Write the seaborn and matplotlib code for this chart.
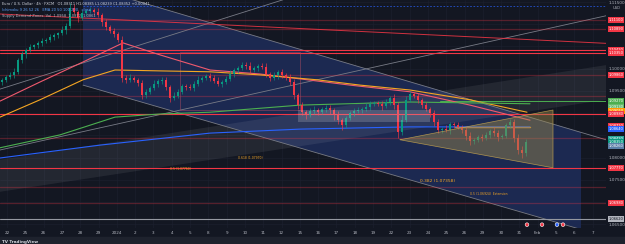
import matplotlib
matplotlib.use("Agg")
import matplotlib.pyplot as plt
import numpy as np
import pandas as pd
import seaborn as sns

# ---- candle data (4h bars) ----
first_open = 1.0970
closes = [
    1.0975, 1.0981, 1.0986, 1.0993, 1.1019, 1.1033, 1.1042, 1.1049, 1.1053, 1.1058, 1.1062, 1.1065,
    1.1071, 1.1076, 1.1080, 1.1087, 1.1096, 1.1137, 1.1128, 1.1114, 1.1125, 1.1130, 1.1132, 1.1128,
    1.1121, 1.1105, 1.1094, 1.1085, 1.1078, 1.1065, 1.0979, 1.0975, 1.0979, 1.0975, 1.0968, 1.0941,
    1.0948, 1.0957, 1.0966, 1.0972, 1.0975, 1.0959, 1.0934, 1.0939, 1.0948, 1.0961, 1.0959, 1.0957,
    1.0966, 1.0975, 1.0979, 1.0984, 1.0979, 1.0972, 1.0966, 1.0970, 1.0977, 1.0988, 1.0997, 1.1002,
    1.1008, 1.1006, 1.0997, 1.1002, 1.1006, 1.1004, 1.0988, 1.0979, 1.0986, 1.0993, 1.0986, 1.0979,
    1.0970, 1.0941, 1.0918, 1.0902, 1.0896, 1.0905, 1.0907, 1.0902, 1.0909, 1.0912, 1.0907, 1.0896,
    1.0884, 1.0873, 1.0889, 1.0900, 1.0905, 1.0907, 1.0909, 1.0914, 1.0921, 1.0923, 1.0921, 1.0916,
    1.0925, 1.0934, 1.0918, 1.0858, 1.0884, 1.0930, 1.0943, 1.0939, 1.0930, 1.0918, 1.0909, 1.0900,
    1.0880, 1.0862, 1.0864, 1.0862, 1.0875, 1.0873, 1.0869, 1.0862, 1.0849, 1.0837, 1.0840, 1.0846,
    1.0844, 1.0851, 1.0860, 1.0855, 1.0846, 1.0849, 1.0873, 1.0880, 1.0844, 1.0817, 1.0810, 1.0835,
]
upper_wick_pips = [
    5, 4, 6, 8, 5, 7, 4, 6, 3, 5, 7, 4,
    6, 5, 3, 8, 6, 10, 9, 5, 7, 4, 6, 5,
    8, 4, 6, 5, 7, 5, 9, 6, 8, 5, 4, 7,
    6, 5, 8, 4, 6, 7, 5, 9, 6, 4, 5, 7,
    6, 8, 5, 4, 6, 7, 9, 5, 6, 8, 4, 5,
    7, 6, 10, 5, 4, 6, 8, 5, 7, 4, 6, 5,
    8, 6, 4, 7, 5, 6, 9, 5, 4, 7, 6, 5,
    8, 6, 4, 5, 7, 6, 5, 8, 6, 4, 5, 7,
    6, 5, 8, 6, 12, 9, 7, 5, 6, 4, 8, 5,
    7, 6, 5, 9, 6, 4, 7, 5, 6, 8, 5, 4,
    6, 7, 5, 8, 6, 4, 5, 7, 6, 10, 8, 6,
]
lower_wick_pips = [
    6, 5, 4, 7, 5, 6, 8, 4, 5, 7, 6, 5,
    4, 6, 7, 5, 8, 4, 6, 9, 5, 6, 4, 7,
    5, 8, 6, 4, 7, 6, 10, 8, 5, 6, 7, 9,
    6, 5, 4, 7, 6, 8, 9, 5, 4, 6, 7, 5,
    8, 5, 6, 4, 7, 5, 6, 8, 4, 5, 7, 6,
    5, 7, 6, 4, 8, 5, 6, 7, 5, 9, 6, 4,
    7, 9, 8, 6, 10, 5, 6, 7, 4, 6, 8, 12,
    9, 10, 6, 5, 7, 4, 6, 5, 7, 6, 4, 8,
    5, 6, 8, 14, 7, 5, 6, 4, 7, 6, 5, 8,
    9, 7, 6, 5, 8, 6, 5, 7, 9, 8, 6, 5,
    6, 5, 7, 6, 8, 5, 6, 7, 9, 8, 10, 6,
]

date_labels = ["22", "25", "26", "27", "28", "29", "2024", "2", "3", "4", "5", "8", "9",
               "10", "11", "12", "15", "16", "17", "18", "19", "22", "23", "24", "25",
               "26", "29", "30", "31", "Feb", "5", "6", "7"]
price_ticks = [1.0650, 1.0700, 1.0750, 1.0800, 1.0850, 1.0900, 1.0950,
               1.1000, 1.1050, 1.1100, 1.1150]

# moving averages (bar index, price)
ma_red_x = [-0.5, 9.5, 20.25, 30.25, 39.5, 52, 64.5, 74.5, 87, 102, 117, 132]
ma_red_y = [1.0927, 1.0970, 1.1015, 1.1058, 1.1031, 1.0997, 1.0988, 1.0977, 1.0963, 1.0948, 1.0918, 1.0884]
ma_orange_x = [-0.5, 9.5, 20.25, 28.25, 39.5, 52, 64.5, 78.75, 89.5, 102, 117, 131.25]
ma_orange_y = [1.0891, 1.0930, 1.0975, 1.0997, 1.0995, 1.0993, 1.0986, 1.0975, 1.0963, 1.0952, 1.0930, 1.0902]
ma_green_x = [-0.5, 14.5, 28.25, 39.5, 52, 74.5, 102, 132]
ma_green_y = [1.0822, 1.0851, 1.0891, 1.0898, 1.0902, 1.0918, 1.0925, 1.0921]
ma_blue_x = [-0.5, 24.5, 52, 74.5, 102, 132]
ma_blue_y = [1.0799, 1.0828, 1.0855, 1.0864, 1.0869, 1.0869]

# drawings
channel_x = [20.25, 144.75, 144.75, 20.25]
channel_y = [1.1188, 1.0857, 1.0639, 1.0963]
wedge_x = [-0.5, 151, 151, -0.5]
wedge_y = [1.0795, 1.1008, 1.0930, 1.0723]
triangle_x = [99.5, 137.75, 137.75]
triangle_y = [1.0840, 1.0907, 1.0777]
range_box = (74, 107, 1.0880, 1.0907)
outline_box = (44.5, 74.5, 1.0907, 1.1038)

strong_red_levels = [1.1042, 1.1035, 1.0898, 1.0777]
dim_red_levels = [1.1110, 1.1089, 1.0986, 1.0939, 1.0844, 1.0734, 1.0698]
grey_level = 1.0662

tag_prices = [1.1110, 1.1089, 1.1042, 1.1035, 1.0986, 1.0927, 1.0913, 1.0905,
              1.0898, 1.0871, 1.0864, 1.0842, 1.0835, 1.0826, 1.0777, 1.0698, 1.0662]
tag_colors = ["#f23645", "#f23645", "#f23645", "#f23645", "#f23645", "#4caf50", "#66bb6a",
              "#ff9800", "#f23645", "#f23645", "#2962ff", "#26a69a", "#089981", "#5b7fa8",
              "#f23645", "#f23645", "#b2b5be"]

event_x = [131.25, 135, 138.75, 140.25]
event_colors = ["#f23645", "#f23645", "#2962ff", "#f23645"]

BG = "#131722"
UP, DOWN = "#089981", "#f23645"

sns.set_theme(style="dark", rc={"axes.facecolor": BG, "figure.facecolor": BG,
                                "grid.color": "#1d2130", "axes.edgecolor": BG})
plt.rcParams["font.family"] = ["DejaVu Sans"]

fig = plt.figure(figsize=(6.25, 2.44), dpi=100)
ax = fig.add_axes([0, 16 / 244, 606 / 625, 228 / 244])
ax.set_xlim(-0.5, 151)
ax.set_ylim(1.06415, 1.11545)

# background drawings
ax.fill(channel_x, channel_y, color="#1c2951", lw=0, zorder=0.6)
ax.fill(wedge_x, wedge_y, color="#ffffff", alpha=0.07, lw=0, zorder=0.7)
ax.plot([20.25, 151], [1.1188, 1.0840], color="#787b86", lw=0.6, zorder=1.5)
ax.plot([20.25, 151], [1.0963, 1.0622], color="#787b86", lw=0.6, zorder=1.5)
ax.plot([-0.5, 151], [1.0817, 1.1119], color="#787b86", lw=0.6, zorder=1.5)
ax.plot([-0.5, 70.25], [1.0954, 1.1155], color="#787b86", lw=0.6, zorder=1.5)
ax.plot([-0.5, 151], [1.1123, 1.1057], color="#f23645", lw=0.7, alpha=0.85, zorder=1.5)
ax.plot([20.25, 151], [1.1141, 1.1141], color="#2962ff", lw=0.6, ls=(0, (2, 2)), alpha=0.8)

for lv in strong_red_levels:
    ax.axhline(lv, color="#f23645", lw=0.8, zorder=1.6)
for lv in dim_red_levels:
    ax.axhline(lv, color="#f23645", lw=0.9, alpha=0.3, zorder=1.6)
ax.axhline(grey_level, color="#9598a1", lw=0.8, zorder=1.6)
ax.plot([109.5, 151], [1.0927, 1.0927], color="#4caf50", lw=0.7, zorder=1.6)
ax.plot([113.25, 132], [1.0869, 1.0869], color="#ff9800", lw=1.0, zorder=1.7)

ax.add_patch(plt.Rectangle((outline_box[0], outline_box[2]), outline_box[1] - outline_box[0],
                           outline_box[3] - outline_box[2], fill=False, ec="#a84a63",
                           lw=0.5, alpha=0.7, zorder=1.6))

# moving averages
for xs, ys, col in [(ma_red_x, ma_red_y, "#f05a6e"), (ma_orange_x, ma_orange_y, "#f5a623"),
                    (ma_green_x, ma_green_y, "#4caf50"), (ma_blue_x, ma_blue_y, "#2962ff")]:
    sns.lineplot(data=pd.DataFrame({"x": xs, "y": ys}), x="x", y="y", ax=ax,
                 color=col, lw=0.8, zorder=2)

# candles
cl = np.array(closes)
op = np.r_[first_open, cl[:-1]]
hi = np.maximum(op, cl) + np.array(upper_wick_pips) * 1e-4
lo = np.minimum(op, cl) - np.array(lower_wick_pips) * 1e-4
idx = np.arange(len(cl))
cols = np.where(cl >= op, UP, DOWN)
ax.vlines(idx, lo, hi, colors=cols, lw=0.45, zorder=3)
ax.bar(idx, np.maximum(np.abs(cl - op), 0.00015), bottom=np.minimum(op, cl),
       width=0.55, color=cols, lw=0, zorder=3.1)

# overlays
ax.fill(triangle_x, triangle_y, color="#9c8a4c", alpha=0.45, lw=0, zorder=4)
ax.plot(triangle_x + [triangle_x[0]], triangle_y + [triangle_y[0]], color="#c9a74f",
        lw=0.5, alpha=0.8, zorder=4)
ax.add_patch(plt.Rectangle((range_box[0], range_box[2]), range_box[1] - range_box[0],
                           range_box[3] - range_box[2], color="#d1d4dc", alpha=0.22,
                           lw=0, zorder=4))

# fib texts
ax.text(104.5, 1.0746, "0.382 (1.07358)", color="#f5a623", fontsize=3.2, zorder=5)
ax.text(117, 1.0716, "0.5 (1.06924)  Extension", color="#f5a623", fontsize=2.2, zorder=5)
ax.text(42, 1.0773, "0.5 (1.07760)", color="#f5a623", fontsize=2.2, zorder=5)
ax.text(59, 1.0797, "0.618 (1.07970)", color="#f5a623", fontsize=2.2, zorder=5)

ax.scatter(event_x, [1.0649] * len(event_x), s=7, c=event_colors, edgecolors="white",
           linewidths=0.4, zorder=6)

# axes / ticks
tick_pos = [1.25 + 4.575 * k for k in range(len(date_labels))]
ax.set_xticks(tick_pos)
ax.set_xticklabels(date_labels)
ax.set_yticks(price_ticks)
# hide scale labels that a price tag covers
ax.set_yticklabels(["" if min(abs(p - t) for t in tag_prices) < 0.0011 else f"{p:.5f}"
                    for p in price_ticks])
ax.yaxis.tick_right()
ax.tick_params(axis="both", length=0, labelsize=3, colors="#b2b5be", pad=2)
ax.grid(True, color="#1d2130", lw=0.4)
ax.set_xlabel("")
ax.set_ylabel("")
for s in ax.spines.values():
    s.set_visible(False)

for p, c in zip(tag_prices, tag_colors):
    ax.text(1.004, p, f"{p:.5f}", transform=ax.get_yaxis_transform(), fontsize=2.6,
            color="#131722" if c == "#b2b5be" else "white", va="center", ha="left",
            bbox=dict(boxstyle="square,pad=0.25", fc=c, ec="none"), zorder=7)

# header and footer
fig.text(0.004, 0.992, "Euro / U.S. Dollar · 4h · FXCM   O1.08311 H1.08385 L1.08239 C1.08352 +0.00041",
         fontsize=2.6, color="#d1d4dc", va="top")
fig.text(0.004, 0.968, "Ichimoku 9 26 52 26   EMA 20 50 100 200   close", fontsize=2.6,
         color="#5b9cf6", va="top")
fig.text(0.004, 0.944, "Supply Demand Zones  Vol  1.0958  1.0872  1.0861", fontsize=2.6,
         color="#b2b5be", va="top")
fig.text(0.987, 0.962, "USD", fontsize=2.6, color="#b2b5be", ha="center")
fig.patches.append(plt.Rectangle((0, 0), 1, 7 / 244, transform=fig.transFigure,
                                 color="#1e222d", zorder=0))
fig.text(0.004, 0.004, "TV TradingView", fontsize=3, color="#d1d4dc", weight="bold")

fig.savefig("out.png", dpi=100, facecolor=BG)
